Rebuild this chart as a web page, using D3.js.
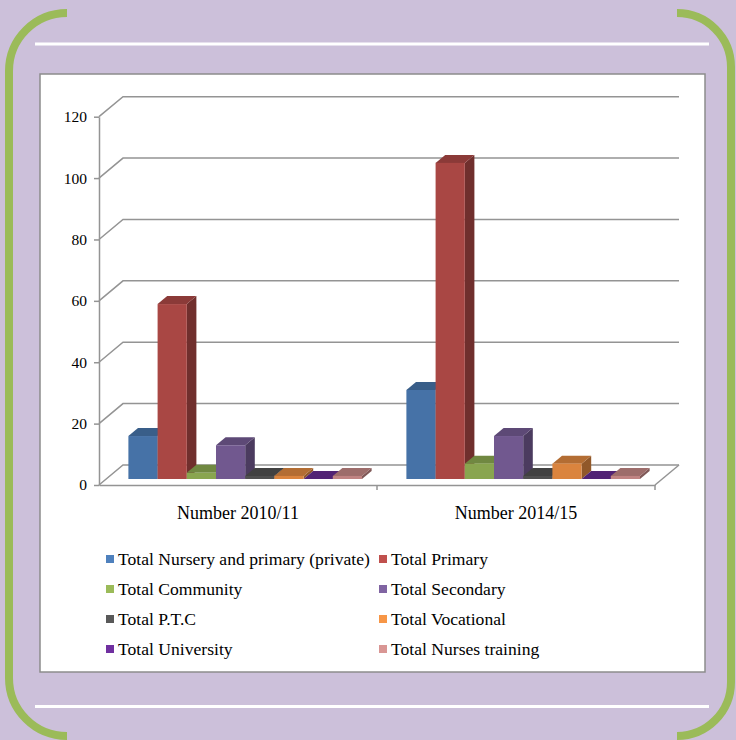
<!DOCTYPE html>
<html>
<head>
<meta charset="utf-8">
<script src="https://cdn.jsdelivr.net/npm/d3@7"></script>
<style>
  html, body { margin: 0; padding: 0; background: #CCC0DA; }
  svg { display: block; }
  svg text { font-family: "Liberation Serif", serif; }
</style>
</head>
<body>
<svg id="chart" width="736" height="740"></svg>
<script>
// Institutions by level, two survey years
const categories = ["Number 2010/11", "Number 2014/15"];
const seriesNames = [
  "Total Nursery and primary (private)", "Total Primary",
  "Total Community", "Total Secondary",
  "Total P.T.C", "Total Vocational",
  "Total University", "Total Nurses training"
];
const values2010 = [14, 57, 2, 11, 1, 1, 0, 1];
const values2014 = [29, 103, 5, 14, 1, 5, 0, 1];
const seriesColors = ["#4F81BD", "#C0504D", "#9BBB59", "#8064A2",
                      "#595959", "#F79646", "#7030A0", "#D99694"];
const yTicks = [0, 20, 40, 60, 80, 100, 120];

const seriesValues = [values2010, values2014];
const serif = "Liberation Serif";

const svg = d3.select("#chart");

// Page frame: lavender ground, green corner brackets, white rules
svg.append("rect").attr("width", 736).attr("height", 740).attr("fill", "#CCC0DA");
const green = "#9BBB59";
svg.append("path")
  .attr("d", "M67,13 A58,58 0 0 0 9,71 L9,678 A58,58 0 0 0 67,736")
  .attr("fill", "none").attr("stroke", green).attr("stroke-width", 8);
svg.append("path")
  .attr("d", "M677,13 A54,54 0 0 1 731,67 L731,682 A54,54 0 0 1 677,736")
  .attr("fill", "none").attr("stroke", green).attr("stroke-width", 8);
svg.append("line").attr("x1", 35).attr("x2", 709).attr("y1", 44).attr("y2", 44)
  .attr("stroke", "#fff").attr("stroke-width", 3);
svg.append("line").attr("x1", 35).attr("x2", 709).attr("y1", 706.5).attr("y2", 706.5)
  .attr("stroke", "#fff").attr("stroke-width", 3);

// Chart panel
svg.append("rect").attr("x", 40).attr("y", 74).attr("width", 665).attr("height", 598)
  .attr("fill", "#fff").attr("stroke", "#8c8c8c").attr("stroke-width", 1.5);

// Scales
const left = 99, right = 655, base = 485;
const DX = 24, DY = 20;            // depth offset of the back wall
const y = d3.scaleLinear().domain([0, 120]).range([base, 116.7]);
const x0 = d3.scaleBand().domain(categories).range([left, right]);
const x1 = d3.scaleBand().domain(seriesNames).range([0, x0.bandwidth()])
  .paddingInner(0).paddingOuter(0.76);

const gridColor = "#949494";
const grid = svg.append("g").attr("fill", "none").attr("stroke", gridColor).attr("stroke-width", 1.5);

// Side wall diagonals + back wall gridlines
yTicks.forEach(t => {
  grid.append("path")
    .attr("d", `M${left},${y(t)} L${left + DX},${y(t) - DY} L${right + DX},${y(t) - DY}`);
});
// Floor right edge
grid.append("path").attr("d", `M${right},${base} L${right + DX},${base - DY}`);

// Category axis (front floor edge) with boundary ticks
const xAxis = svg.append("g").attr("transform", `translate(0,${base})`)
  .call(d3.axisBottom(x0).tickSize(0).tickSizeOuter(0));
xAxis.attr("font-family", serif).attr("font-size", 18);
xAxis.select(".domain").attr("stroke", gridColor).attr("stroke-width", 1.5);
xAxis.selectAll(".tick text")
  .attr("y", 28).attr("dy", "0.35em").attr("fill", "#000");
const bounds = categories.map(c => x0(c) + x0.bandwidth());
svg.append("g").selectAll("line").data(bounds).join("line")
  .attr("x1", d => d).attr("x2", d => d).attr("y1", base).attr("y2", base + 5)
  .attr("stroke", gridColor).attr("stroke-width", 1.5);

// Value axis
const yAxis = svg.append("g").attr("transform", `translate(${left},0)`)
  .call(d3.axisLeft(y).tickValues(yTicks).tickSize(5).tickSizeOuter(0).tickPadding(7));
yAxis.attr("font-family", serif).attr("font-size", 15.5);
yAxis.select(".domain").attr("stroke", gridColor).attr("stroke-width", 1.5);
yAxis.selectAll(".tick line").attr("stroke", gridColor).attr("stroke-width", 1.5);
yAxis.selectAll(".tick text").attr("fill", "#000");

// 3D bars: front face at 30% depth, 40% deep
const fd = 0.3, bd = 0.4;
const bars = svg.append("g");
categories.forEach((cat, ci) => {
  seriesNames.forEach((s, si) => {
    const v = seriesValues[ci][si];
    const c = d3.color(seriesColors[si]);
    const x = x0(cat) + x1(s) + fd * DX;
    const w = x1.bandwidth();
    const yb = y(0) - fd * DY;
    const yt = y(v) - fd * DY;
    const ddx = bd * DX, ddy = bd * DY;
    const g = bars.append("g");
    // right side face
    g.append("path")
      .attr("d", `M${x + w},${yt} L${x + w + ddx},${yt - ddy} L${x + w + ddx},${yb - ddy} L${x + w},${yb} Z`)
      .attr("fill", c.darker(1.5));
    // top face
    g.append("path")
      .attr("d", `M${x},${yt} L${x + w},${yt} L${x + w + ddx},${yt - ddy} L${x + ddx},${yt - ddy} Z`)
      .attr("fill", c.darker(0.9));
    // front face
    if (yb - yt > 0) {
      g.append("rect").attr("x", x).attr("y", yt).attr("width", w).attr("height", yb - yt)
        .attr("fill", c.darker(0.35));
    }
  });
});

// Legend, two columns
const legendCols = [106, 379];
const legendRows = [559, 589, 619, 649];
const legend = svg.append("g").attr("font-family", serif).attr("font-size", 17.6);
seriesNames.forEach((s, i) => {
  const lx = legendCols[i % 2];
  const ly = legendRows[Math.floor(i / 2)];
  legend.append("rect").attr("x", lx).attr("y", ly - 4).attr("width", 8).attr("height", 8)
    .attr("fill", seriesColors[i]);
  legend.append("text").attr("x", lx + 12).attr("y", ly).attr("dy", "0.35em")
    .attr("fill", "#000").text(s);
});
</script>
</body>
</html>
